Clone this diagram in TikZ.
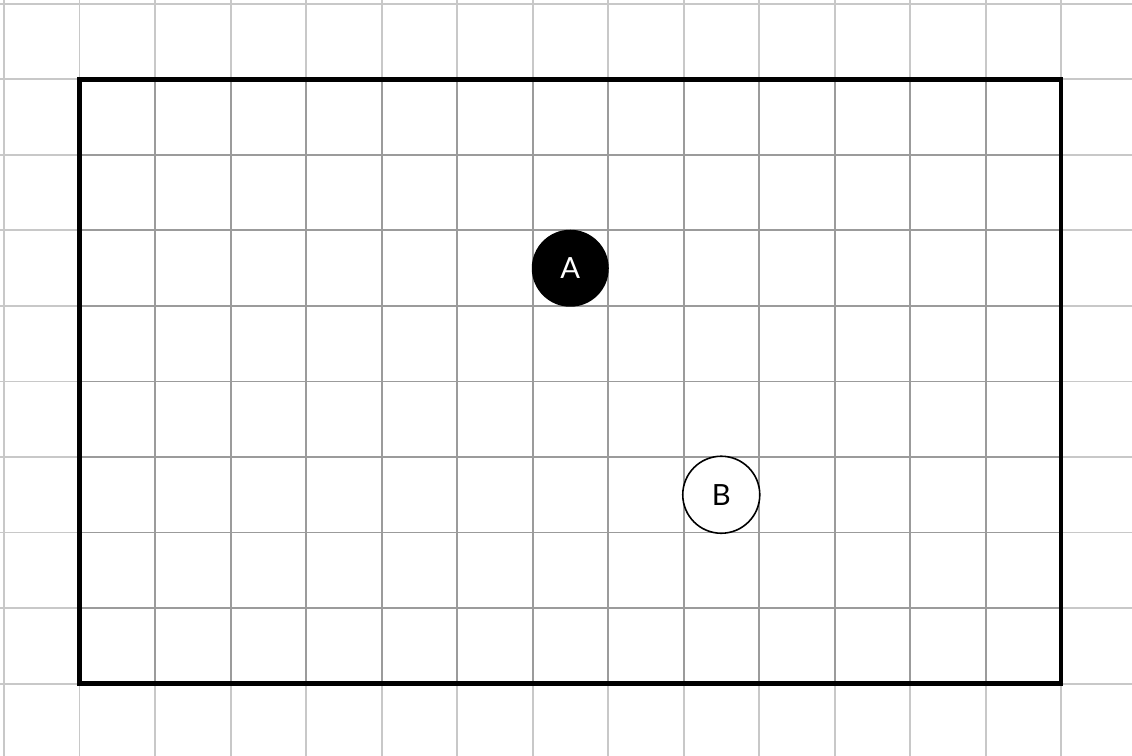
\documentclass[tikz,border=0pt]{standalone}
\usepackage{fontspec}
\setmainfont{Lato}
\begin{document}
\begin{tikzpicture}[x=1cm,y=1cm,
  lightgrid/.style={draw={rgb,255:red,200;green,200;blue,200}, line width=0.75pt},
  darkgrid/.style={draw={rgb,255:red,155;green,155;blue,155}, line width=0.75pt},
  frame/.style={draw=black, line width=1.6pt},
  dot/.style={circle, minimum size=1.02cm, inner sep=0pt, font=\fontsize{11}{13}\selectfont}
]
\useasboundingbox (-0.053,0.04) rectangle (14.94,10.053);
% light grid everywhere
\foreach \x in {0,...,14} \draw[lightgrid] (\x,-0.2) -- (\x,10.2);
\foreach \y in {1,...,10} \draw[lightgrid] (-0.2,\y) -- (15.2,\y);
% darker grid inside frame
\foreach \x in {2,...,13} \draw[darkgrid] (\x,1) -- (\x,9);
\foreach \y in {2,...,8} \draw[darkgrid] (1,\y) -- (14,\y);
% frame
\draw[frame] (1,1) rectangle (14,9);
% nodes
\node[dot, fill=black, text=white] (A) at (7.5,6.5) {A};
\node[dot, draw=black, fill=white, line width=0.6pt] (B) at (9.5,3.5) {B};
\end{tikzpicture}
\end{document}
